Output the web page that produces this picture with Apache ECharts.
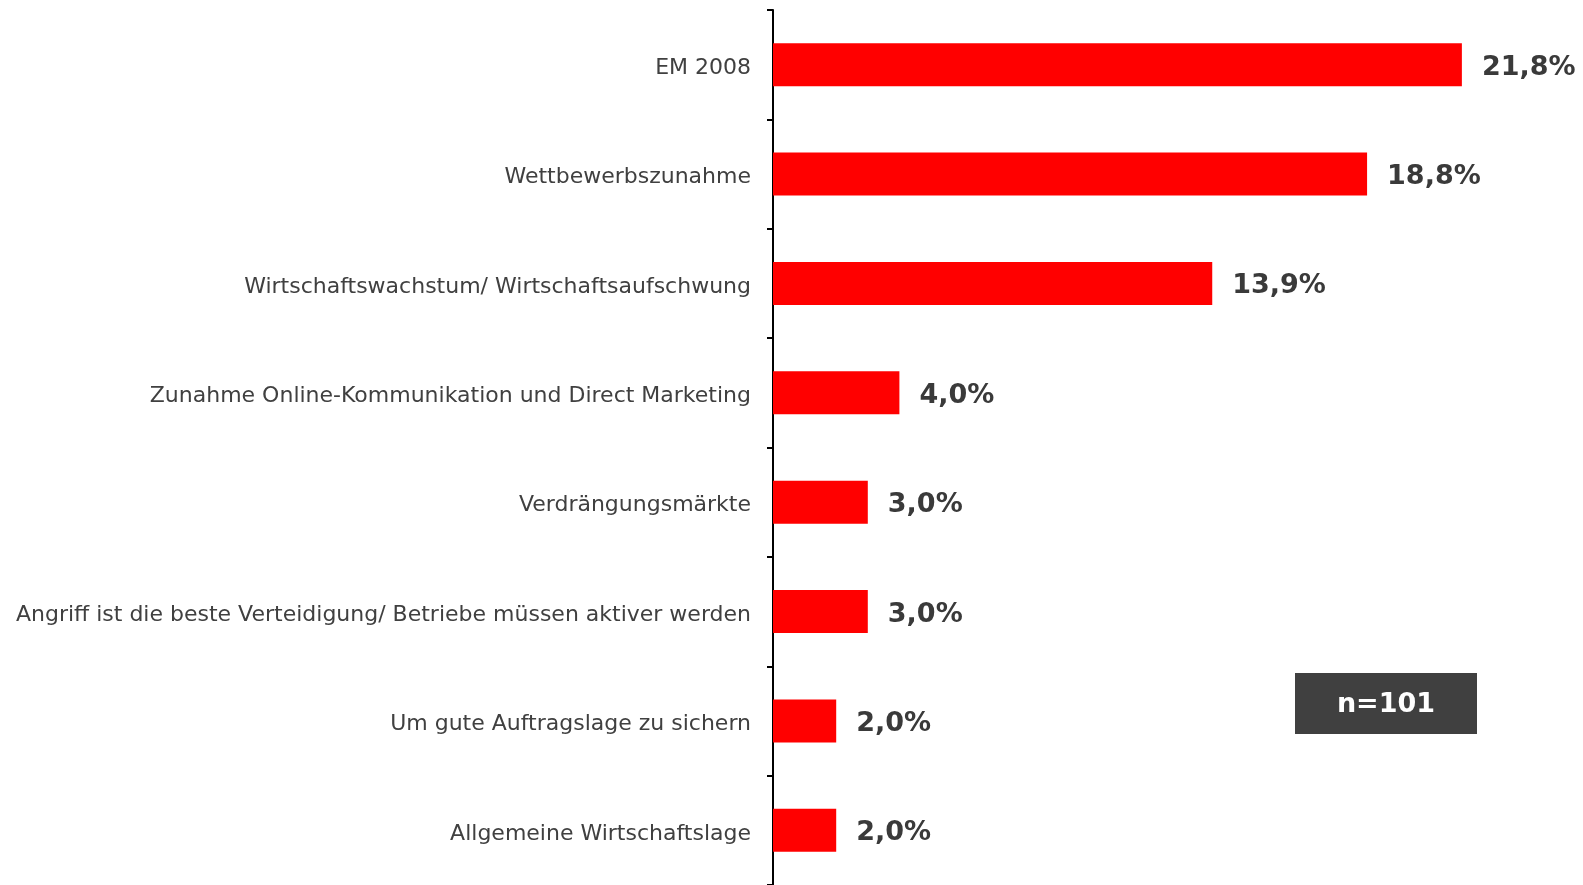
<!DOCTYPE html>
<html lang="de" style="height: 100%">
<head>
  <meta charset="UTF-8" />
  <title>Gründe</title>
  <script src="https://cdn.jsdelivr.net/npm/echarts@6/dist/echarts.min.js"></script>
  <style>
    html, body { height: 100%; margin: 0; background: #fff; }
    #chart { width: 1583px; height: 885px; }
  </style>
</head>
<body>
  <div id="chart"></div>
  <script>
    const categories = [
      'EM 2008',
      'Wettbewerbszunahme',
      'Wirtschaftswachstum/ Wirtschaftsaufschwung',
      'Zunahme Online-Kommunikation und Direct Marketing',
      'Verdrängungsmärkte',
      'Angriff ist die beste Verteidigung/ Betriebe müssen aktiver werden',
      'Um gute Auftragslage zu sichern',
      'Allgemeine Wirtschaftslage'
    ];
    const values = [21.8, 18.8, 13.9, 4.0, 3.0, 3.0, 2.0, 2.0];
    const sampleNote = 'n=101';

    const chart = echarts.init(document.getElementById('chart'));

    chart.setOption({
      backgroundColor: '#fff',
      animation: false,
      grid: { left: 773, top: 10, width: 790, height: 878 },
      xAxis: { type: 'value', min: 0, max: 25, show: false },
      yAxis: {
        type: 'category',
        inverse: true,
        data: categories,
        axisLine: { lineStyle: { color: '#000', width: 2 } },
        axisTick: { show: true, length: 6, lineStyle: { color: '#000', width: 2 } },
        axisLabel: {
          margin: 22,
          formatter: v => '{t|' + v + '}',
          rich: {
            t: {
              color: '#404040',
              fontFamily: 'DejaVu Sans',
              fontSize: 22,
              padding: [7, 0, 0, 0]
            }
          }
        }
      },
      series: [{
        type: 'bar',
        data: values,
        barWidth: 43,
        itemStyle: { color: '#ff0000' },
        label: {
          show: true,
          position: 'right',
          distance: 20,
          offset: [0, 3],
          color: '#3a3a3a',
          fontFamily: 'DejaVu Sans',
          fontWeight: 'bold',
          fontSize: 27,
          formatter: p => p.value.toFixed(1).replace('.', ',') + '%'
        }
      }],
      graphic: [{
        type: 'group',
        left: 1295,
        top: 673,
        children: [
          { type: 'rect', shape: { x: 0, y: 0, width: 182, height: 61 }, style: { fill: '#404040' } },
          {
            type: 'text',
            x: 91, y: 32,
            style: {
              text: sampleNote,
              fill: '#fff',
              font: 'bold 27px "DejaVu Sans"',
              align: 'center',
              verticalAlign: 'middle'
            }
          }
        ]
      }]
    });
  </script>
</body>
</html>
